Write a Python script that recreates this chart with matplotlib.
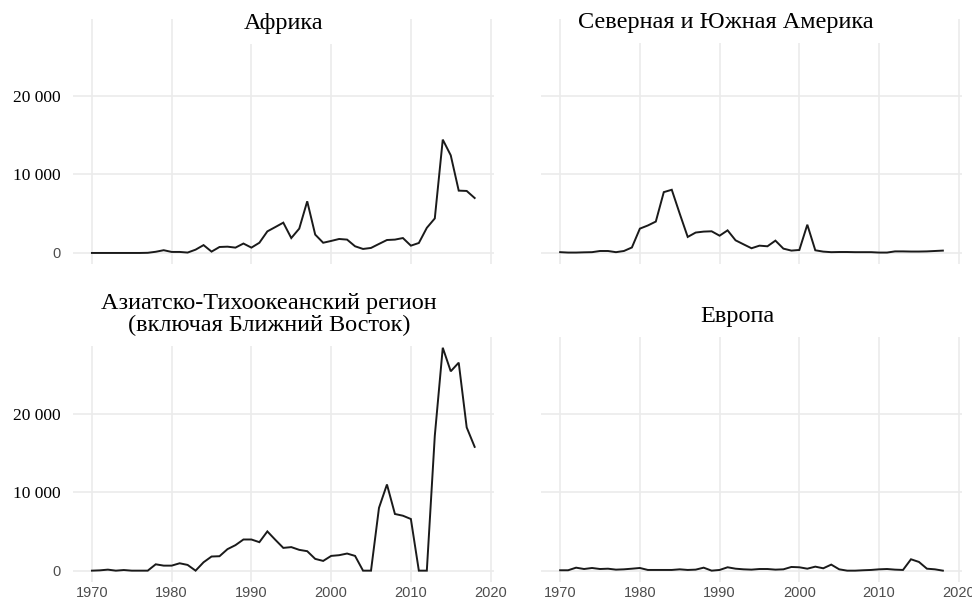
import numpy as np
import matplotlib
matplotlib.use("Agg")
import matplotlib.pyplot as plt

# -------------------------------------------
# data
# -------------------------------------------

years = list(range(1970, 2019))

africa = [0, 0, 0, 0, 0, 0, 0, 20, 150, 350, 130, 130, 50, 420, 1000, 170,
          760, 800, 680, 1200, 680, 1300, 2750, 3300, 3860, 1900, 3100, 6580,
          2340, 1300, 1530, 1780, 1700, 850, 510, 640, 1150, 1650, 1700, 1900,
          930, 1270, 3200, 4400, 14440, 12440, 7940, 7900, 7000]

americas = [100, 50, 50, 80, 100, 250, 250, 100, 250, 700, 3100, 3500, 4000,
            7750, 8050, 5000, 2040, 2600, 2720, 2760, 2200, 2880, 1610, 1100,
            600, 930, 850, 1570, 550, 300, 380, 3600, 340, 170, 100, 120, 120,
            100, 100, 100, 50, 50, 200, 200, 180, 180, 200, 250, 300]

asia = [0, 40, 130, 0, 80, 0, 0, 0, 810, 640, 640, 940, 730, 0, 1070, 1800,
        1840, 2740, 3250, 3970, 3970, 3630, 5000, 3930, 2900, 3000, 2650, 2480,
        1500, 1240, 1880, 1970, 2180, 1880, 0, 0, 8000, 10980, 7220, 7000, 6580,
        0, 0, 17180, 28400, 25400, 26500, 18250, 15770]

europe = [50, 50, 380, 210, 340, 210, 250, 130, 170, 250, 340, 90, 90, 90, 90,
          170, 90, 130, 380, 0, 90, 430, 250, 170, 130, 210, 210, 130, 170, 470,
          430, 250, 510, 300, 770, 170, 0, 0, 50, 90, 170, 210, 130, 90, 1450,
          1110, 250, 170, 0]

titles = ["Африка", "Северная и Южная Америка",
          "Азиатско-Тихоокеанский регион\n(включая Ближний Восток)", "Европа"]
series = [africa, americas, asia, europe]

x_ticks = [1970, 1980, 1990, 2000, 2010, 2020]
y_ticks = [0, 10000, 20000]
y_labels = ["0", "10\u00a0000", "20\u00a0000"]

# -------------------------------------------
# layout (ggplot-like facet_wrap, theme_minimal)
# -------------------------------------------

W, H = 972, 603
fig = plt.figure(figsize=(W / 100, H / 100), dpi=100)

lefts = [72.8, 541]
tops = [18.9, 336.6]
pw, ph = 421, 245.2

x_lo, x_hi = 1970 - 0.05 * 48, 2018 + 0.05 * 48
ymax = max(max(s) for s in series)
y_lo, y_hi = -0.05 * ymax, 1.05 * ymax

# title positions (centre x, baseline y in px)
title_pos = [(284, 29), (726, 28), (269, 331), (737, 322)]

for i, (name, vals) in enumerate(zip(titles, series)):
    r, c = divmod(i, 2)
    ax = fig.add_axes([lefts[c] / W, 1 - (tops[r] + ph) / H, pw / W, ph / H])
    ax.plot(years, vals, color="#1a1a1a", lw=1.4, solid_joinstyle="miter")
    ax.set_xlim(x_lo, x_hi)
    ax.set_ylim(y_lo, y_hi)
    ax.set_xticks(x_ticks)
    ax.set_yticks(y_ticks)
    ax.grid(True, color="#ebebeb", lw=1.2)
    ax.set_axisbelow(True)
    for sp in ax.spines.values():
        sp.set_visible(False)
    ax.tick_params(length=0, colors="#4d4d4d", labelsize=10.5, pad=3)
    if r == 1:
        ax.set_xticklabels([str(t) for t in x_ticks])
    else:
        ax.set_xticklabels([])
    if c == 0:
        ax.set_yticklabels(y_labels)
        for lab in ax.get_yticklabels():
            if lab.get_text() != "0":
                lab.set_fontfamily("Liberation Serif")
                lab.set_fontsize(12.5)
                lab.set_color("black")
            else:
                lab.set_fontfamily("Liberation Sans")
        ax.tick_params(axis="y", pad=9)
    else:
        ax.set_yticklabels([])
    for lab in ax.get_xticklabels():
        lab.set_fontfamily("Liberation Sans")

    tx, ty = title_pos[i]
    fig.text(tx / W, 1 - ty / H, name, ha="center", va="baseline",
             family="Liberation Serif", fontsize=17.5, color="black",
             linespacing=1.05,
             bbox=dict(facecolor="white", edgecolor="none", pad=7))

fig.savefig("out.png", dpi=100, facecolor="white")
